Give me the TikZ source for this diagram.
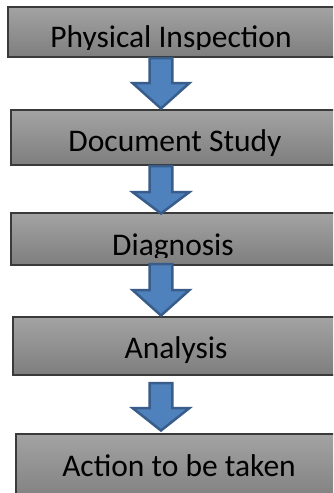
\documentclass[tikz,border=0pt]{standalone}
\usepackage{fontspec}
\setmainfont{Carlito}
\definecolor{boxtop}{HTML}{A3A3A3}
\definecolor{boxbot}{HTML}{7E7E7E}
\definecolor{boxline}{HTML}{3A3A3A}
\definecolor{arrfill}{HTML}{4F81BD}
\definecolor{arrline}{HTML}{385D8A}
\tikzset{
  stepbox/.style={draw=boxline, line width=1.2pt, top color=boxtop, bottom color=boxbot,
    minimum width=330pt, inner sep=0pt, outer sep=0pt, anchor=north west},
  lbl/.style={font=\fontsize{31.5}{36}\selectfont, text=black, anchor=base, inner sep=0pt},
  blockarr/.style={fill=arrfill, draw=arrline, line width=2.5pt, line join=miter},
}
\newcommand{\myblockarrow}[4]{% x, top, headtop, tip
  \draw[blockarr] (#1-11.3,#2) -- (#1+11.3,#2) -- (#1+11.3,#3) -- (#1+28.5,#3)
    -- (#1,#4-1.5) -- (#1-28.5,#3) -- (#1-11.3,#3) -- cycle;}
\begin{document}
\begin{tikzpicture}[x=1pt,y=-1pt]
\path[use as bounding box, fill=white] (0,0) rectangle (333,493);
\begin{scope}
\clip (0,0) rectangle (333,493);
\node[stepbox, minimum height=50pt] (b1) at (8,7) {};
\node[stepbox, minimum height=55pt] (b2) at (11,110) {};
\node[stepbox, minimum height=52pt] (b3) at (11,213) {};
\node[stepbox, minimum height=58pt] (b4) at (13,317) {};
\node[stepbox, minimum height=70pt] (b5) at (16,434) {};
\begin{scope}
\clip (0,7) rectangle (333,49);
\node[lbl] (t1) at (171,47) {Physical Inspection};
\end{scope}
\node[lbl] (t2) at (175,151) {Document Study};
\begin{scope}
\clip (0,213) rectangle (333,257.5);
\node[lbl] (t3) at (173,255.5) {Diagnosis};
\end{scope}
\node[lbl] (t4) at (176,358) {Analysis};
\node[lbl] (t5) at (179,476) {Action to be taken};
\myblockarrow{161}{58}{83}{110}
\myblockarrow{161}{166}{192}{215}
\myblockarrow{161}{264}{290}{317}
\myblockarrow{161}{383}{408}{432}
\end{scope}
\end{tikzpicture}
\end{document}
